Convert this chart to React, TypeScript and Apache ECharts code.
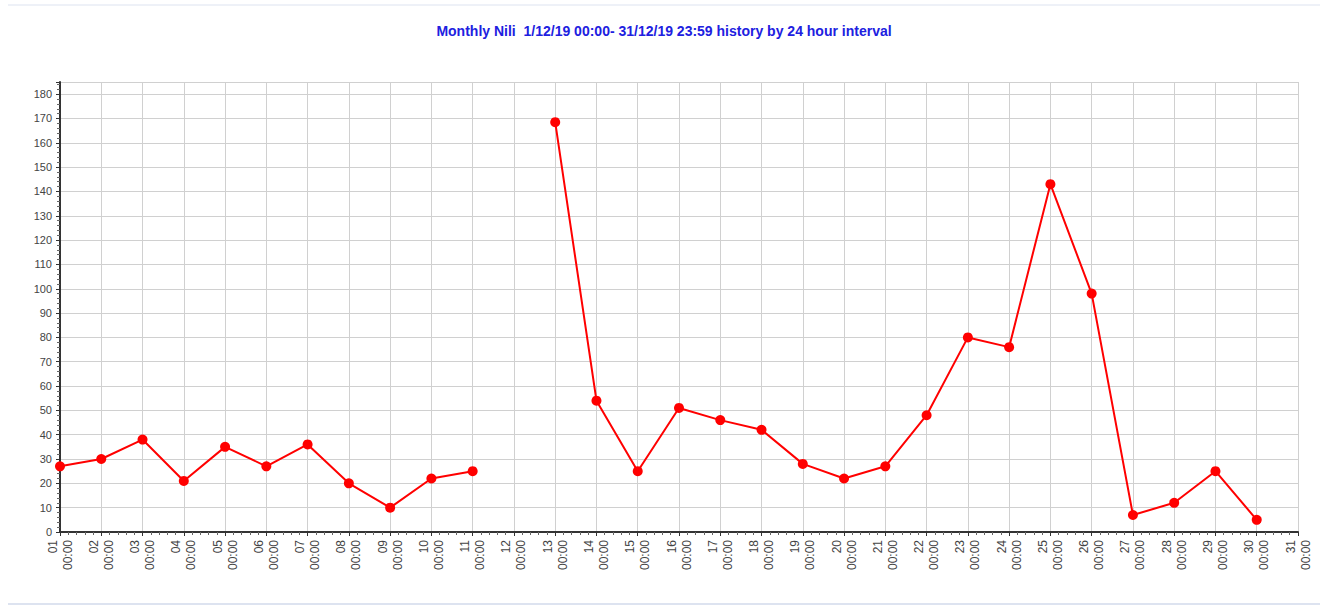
import React, { useEffect, useRef } from "react";
import * as echarts from "echarts";

const TITLE = "Monthly Nili  1/12/19 00:00- 31/12/19 23:59 history by 24 hour interval";
const days = [1,2,3,4,5,6,7,8,9,10,11,12,13,14,15,16,17,18,19,20,21,22,23,24,25,26,27,28,29,30,31];
const values: (number | null)[] = [27,30,38,21,35,27,36,20,10,22,25,null,168.5,54,25,51,46,42,28,22,27,48,80,76,143,98,7,12,25,5,null];
const yTicks = { min: 0, max: 185, interval: 10 };

export default function App() {
  const ref = useRef<HTMLDivElement>(null);
  useEffect(() => {
    const chart = echarts.init(ref.current!, null, { renderer: "svg" });
    const data = days.map((d, i) => [d, values[i]]);
    chart.setOption({
      animation: false,
      backgroundColor: "#ffffff",
      title: {
        text: TITLE,
        left: "center",
        top: 19,
        textStyle: { color: "#2020e0", fontSize: 14, fontWeight: "bold", fontFamily: "Liberation Sans, Arial, sans-serif" },
      },
      graphic: [
        { type: "line", shape: { x1: 8, y1: 5, x2: 1320, y2: 5 }, style: { stroke: "#dde3f0", lineWidth: 1 } },
        { type: "line", shape: { x1: 8, y1: 604, x2: 1320, y2: 604 }, style: { stroke: "#dde3f0", lineWidth: 2 } },
      ],
      grid: { left: 60, right: 30, top: 82, bottom: 78, containLabel: false },
      xAxis: {
        type: "value",
        min: 1,
        max: 31,
        interval: 1,
        axisLine: { show: true, onZero: false, lineStyle: { color: "#333", width: 2 } },
        axisTick: { show: true, length: 4, lineStyle: { color: "#333" } },
        minorTick: { show: true, splitNumber: 5, length: 3, lineStyle: { color: "#666" } },
        splitLine: { show: true, lineStyle: { color: "#d0d0d0", width: 1 } },
        axisLabel: {
          rotate: 90,
          color: "#444",
          fontSize: 12,
          lineHeight: 15,
          fontFamily: "Liberation Sans, Arial, sans-serif",
          margin: 8,
          formatter: (v: number) => String(v).padStart(2, "0") + "\n00:00",
        },
      },
      yAxis: {
        type: "value",
        min: yTicks.min,
        max: yTicks.max,
        interval: yTicks.interval,
        axisLine: { show: true, lineStyle: { color: "#333", width: 2 } },
        axisTick: { show: true, length: 4, lineStyle: { color: "#333" } },
        minorTick: { show: true, splitNumber: 5, length: 3, lineStyle: { color: "#666" } },
        splitLine: { show: true, lineStyle: { color: "#d0d0d0", width: 1 } },
        axisLabel: {
          color: "#444",
          fontSize: 11,
          fontFamily: "Liberation Sans, Arial, sans-serif",
          margin: 8,
          showMaxLabel: false,
        },
      },
      series: [
        {
          type: "line",
          data,
          connectNulls: false,
          symbol: "circle",
          symbolSize: 10,
          lineStyle: { color: "#ff0000", width: 2 },
          itemStyle: { color: "#ff0000" },
        },
      ],
    });
    return () => chart.dispose();
  }, []);
  return <div ref={ref} style={{ position: "fixed", left: 0, top: 0, width: 1328, height: 610 }} />;
}
